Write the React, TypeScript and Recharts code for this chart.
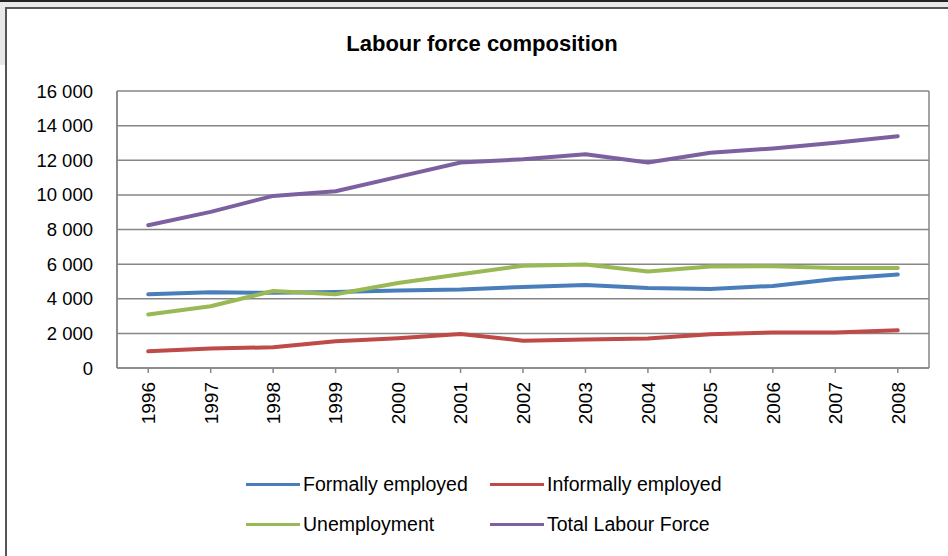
import React from 'react';
import { LineChart, Line, XAxis, YAxis, CartesianGrid, Legend } from 'recharts';

const years = ['1996', '1997', '1998', '1999', '2000', '2001', '2002', '2003', '2004', '2005', '2006', '2007', '2008'];
const formallyEmployed = [4260, 4380, 4340, 4390, 4470, 4530, 4680, 4800, 4620, 4570, 4740, 5140, 5400];
const informallyEmployed = [965, 1120, 1200, 1540, 1720, 1965, 1580, 1640, 1700, 1950, 2050, 2050, 2180];
const unemployment = [3090, 3570, 4450, 4260, 4910, 5420, 5900, 5980, 5570, 5860, 5880, 5780, 5780];
const totalLabourForce = [8250, 9020, 9940, 10210, 11040, 11870, 12060, 12350, 11870, 12430, 12680, 13010, 13390];
const yTicks = [0, 2000, 4000, 6000, 8000, 10000, 12000, 14000, 16000];

const series = [
  { key: 'formal', name: 'Formally employed', color: '#4a7ebb' },
  { key: 'informal', name: 'Informally employed', color: '#be4b48' },
  { key: 'unemp', name: 'Unemployment', color: '#98b954' },
  { key: 'total', name: 'Total Labour Force', color: '#7d60a0' },
];

const data = years.map((y, i) => ({
  year: y,
  formal: formallyEmployed[i],
  informal: informallyEmployed[i],
  unemp: unemployment[i],
  total: totalLabourForce[i],
}));

const FONT = '"Liberation Sans", Arial, sans-serif';

const fmt = (v: number) => {
  const s = String(v);
  if (s.length <= 3) return s;
  return s.slice(0, s.length - 3) + ' ' + s.slice(s.length - 3);
};

const XTick = (props: any) => {
  const { x, y, payload } = props;
  return (
    <text
      x={x}
      y={y}
      transform={`rotate(-90 ${x} ${y})`}
      textAnchor="end"
      dy="0.36em"
      fill="#000"
      fontSize={19}
      fontFamily={FONT}
    >
      {payload.value}
    </text>
  );
};

const LegendContent = () => {
  const pos = [
    { left: 246, top: 19 },
    { left: 490, top: 19 },
    { left: 246, top: 59 },
    { left: 490, top: 59 },
  ];
  return (
    <div style={{ position: 'relative', width: 948, height: 91 }}>
      {series.map((s, i) => (
        <div key={s.key} style={{ position: 'absolute', left: pos[i].left, top: pos[i].top - 12, height: 24, display: 'flex', alignItems: 'center' }}>
          <div style={{ width: 54, height: 3, background: s.color, marginRight: 3 }} />
          <span style={{ fontFamily: FONT, fontSize: 19.5, color: '#000', whiteSpace: 'nowrap' }}>{s.name}</span>
        </div>
      ))}
    </div>
  );
};

export default function App() {
  return (
    <div style={{ position: 'absolute', left: 0, top: 0, width: 948, height: 556, background: '#fff', overflow: 'hidden' }}>
      <div style={{ position: 'absolute', left: 0, top: 0, width: 948, height: 2, background: '#222' }} />
      <div style={{ position: 'absolute', left: 0, top: 2, width: 948, height: 5, background: '#e8e8e8' }} />
      <div style={{ position: 'absolute', left: 0, top: 7, width: 5, height: 58, background: '#e8e8e8' }} />
      <div style={{ position: 'absolute', left: 5, top: 7, width: 943, height: 2, background: '#555' }} />
      <div style={{ position: 'absolute', left: 5, top: 7, width: 2, height: 549, background: '#555' }} />
      <div
        style={{
          position: 'absolute',
          left: 0,
          top: 31,
          width: 964,
          textAlign: 'center',
          fontFamily: FONT,
          fontWeight: 'bold',
          fontSize: 22,
          color: '#000',
        }}
      >
        Labour force composition
      </div>
      <div style={{ position: 'absolute', left: 0, top: 0 }}>
        <LineChart width={948} height={556} data={data} margin={{ top: 91, right: 19, left: 0, bottom: 0 }}>
          <CartesianGrid
            stroke="#868686"
            strokeWidth={1.5}
            horizontal={true}
            vertical={true}
            verticalCoordinatesGenerator={({ offset }: any) => [offset.left, offset.left + offset.width]}
          />
          <XAxis
            dataKey="year"
            scale="band"
            interval={0}
            height={97}
            tickSize={5}
            tickMargin={9}
            tickLine={{ stroke: '#868686', strokeWidth: 1.5 }}
            axisLine={{ stroke: '#868686', strokeWidth: 1.5 }}
            tick={<XTick />}
          />
          <YAxis
            width={117}
            domain={[0, 16000]}
            ticks={yTicks}
            interval={0}
            tickFormatter={fmt}
            tickLine={false}
            tickSize={6}
            tickMargin={18}
            axisLine={{ stroke: '#868686', strokeWidth: 1.5 }}
            tick={{ fill: '#000', fontSize: 18.5, fontFamily: FONT }}
          />
          <Legend
            verticalAlign="bottom"
            content={<LegendContent />}
            wrapperStyle={{ left: 0, bottom: 0, width: 948, height: 91 }}
          />
          {series.map((s) => (
            <Line
              key={s.key}
              type="linear"
              dataKey={s.key}
              name={s.name}
              stroke={s.color}
              strokeWidth={4}
              strokeLinecap="round"
              strokeLinejoin="round"
              dot={false}
              activeDot={false}
              isAnimationActive={false}
            />
          ))}
        </LineChart>
      </div>
    </div>
  );
}
